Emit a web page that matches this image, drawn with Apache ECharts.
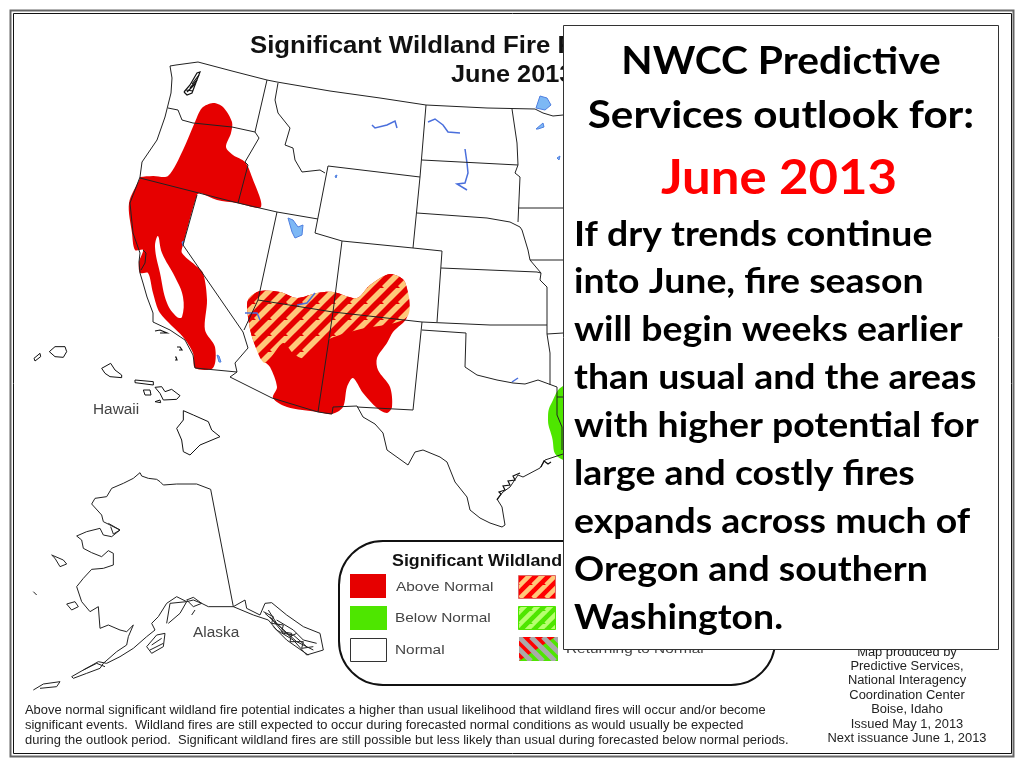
<!DOCTYPE html>
<html>
<head>
<meta charset="utf-8">
<style>html,body{margin:0;padding:0;background:#fff}#chart{width:1024px;height:768px}</style>
<script src="https://cdn.jsdelivr.net/npm/echarts@6/dist/echarts.min.js"></script>
</head>
<body>
<div id="chart"></div>
<script>
// map outlines, in map units
const stateLines = [
  [[198,62],[232,71],[267,80],[277,82],[330,91],[380,98],[426,105],[487,108],[535,109],[543,113],[553,116],[563,115]],
  [[198,62],[176,65],[170,66],[172,78],[171,93],[168,105],[165,117],[157,140],[142,162],[140,177],[130,203],[133,233],[140,253],[139,262],[140,273],[143,283],[147,297],[153,313],[153,322],[170,330],[185,340],[193,355],[195,368]],
  [[195,368],[237,372],[230,377],[272,398],[318,412],[332,414],[333,407],[357,406],[363,417],[375,424],[383,433],[387,450],[408,465],[415,452],[423,450],[440,457],[447,462],[455,482],[467,497],[470,510],[480,518],[490,523],[502,527],[505,525],[502,507],[497,499],[503,492],[510,487],[518,475],[523,477],[540,468],[545,460],[560,455],[563,454]],
  [[168,108],[178,110],[182,120],[193,123],[232,127],[255,132]],
  [[267,80],[255,132],[259,138],[245,162],[248,165],[238,203]],
  [[140,178],[238,203],[277,212],[318,219]],
  [[278,83],[275,100],[278,113],[290,128],[285,145],[293,148],[295,160],[302,172],[320,170],[325,173]],
  [[328,166],[420,177],[413,248],[342,241],[315,233],[328,166]],
  [[426,105],[420,177]],
  [[422,160],[518,165]],
  [[512,109],[517,143],[518,165],[515,173],[520,177],[518,222]],
  [[518,208],[563,208]],
  [[417,213],[487,218],[510,222],[520,227],[522,230],[528,250],[530,260],[541,273]],
  [[530,260],[563,260]],
  [[413,248],[442,251],[437,322]],
  [[441,268],[537,272],[541,273],[540,280],[547,287],[547,334],[550,353],[550,385]],
  [[342,241],[333,312],[318,412]],
  [[258,300],[333,312],[422,322],[490,325],[547,325]],
  [[277,212],[258,300],[244,330]],
  [[197,195],[183,245],[243,332],[248,348],[235,363],[237,372]],
  [[422,322],[413,410],[357,407]],
  [[422,330],[466,333],[465,367],[477,375],[497,380],[513,383],[525,384],[538,380],[557,387],[557,415],[562,427],[562,450]],
  [[547,334],[563,333]],
  [[557,397],[563,397]],
  [[143,250],[146,253],[145,263],[141,270]]
];
const smallIslands = [
  [[155,331],[160,330],[167,333],[160,333]],
  [[177,347],[180,347],[182,350],[179,350]],
  [[175,357],[176,357],[177,360],[175,360]],
  [[184,92],[190,85],[197,73],[200,72],[195,85],[192,93],[187,95],[184,92]],
  [[190,88],[197,80]],[[187,92],[195,84]],[[192,84],[199,75]],[[186,90],[193,91]],
  [[497,500],[501,494],[499,492],[505,490],[503,486],[510,485],[508,481],[515,480],[513,476],[520,473]],
  [[541,467],[544,461],[548,464],[551,462]]
];
const hawaiiOutlines = [
  [[42,85],[60,70],[62,80],[45,93]],
  [[88,65],[105,50],[135,50],[140,65],[130,82],[105,80]],
  [[245,115],[272,100],[285,120],[305,135],[305,143],[270,140],[255,130]],
  [[345,150],[400,155],[400,165],[345,158]],
  [[370,180],[390,180],[393,195],[375,195]],
  [[405,172],[425,170],[435,185],[455,178],[480,197],[470,208],[430,210],[420,190]],
  [[405,215],[420,210],[422,218]],
  [[490,242],[520,255],[565,275],[575,300],[600,320],[540,345],[510,375],[490,365],[485,330],[470,295],[490,270]]
];
const alaskaOutlines = [
  [[360,38],[365,48],[385,55],[410,58],[420,65],[430,75],[470,72],[530,72],[572,88],[640,440],[600,440],[565,440],[545,430],[520,420],[500,425],[470,410],[440,430],[415,470],[395,490],[405,510],[380,530],[340,565],[300,590],[260,610],[235,605],[190,630],[155,650],[160,655],[200,640],[240,625],[250,610],[290,575],[320,555],[325,530],[340,495],[320,515],[300,510],[265,495],[240,505],[235,440],[210,455],[185,425],[170,380],[190,355],[215,328],[250,325],[280,315],[280,280],[265,272],[245,290],[215,278],[190,265],[185,240],[170,228],[200,215],[240,205],[250,225],[275,230],[300,210],[270,195],[250,185],[245,165],[215,132],[225,115],[260,110],[275,85],[310,70],[340,55],[360,38]],
  [[640,440],[675,420],[680,445],[720,465],[735,430],[755,428],[800,465],[850,500],[900,520],[910,570],[860,585],[820,540],[770,510],[745,480],[700,465],[640,440]],
  [[735,460],[780,500],[830,545],[880,570]],[[750,470],[790,520],[820,525],[860,560]],[[770,480],[820,510],[850,540],[890,550]],[[760,500],[800,540],[850,575],[865,585]],[[745,450],[770,490],[810,530],[830,520]],
  [[730,455],[760,470],[755,490],[790,495],[785,515],[815,520],[810,545],[850,545],[845,565],[880,560]],
  [[380,560],[410,525],[435,520],[430,560],[395,580],[380,560]],[[395,555],[425,535]],[[390,570],[430,550]],
  [[95,285],[130,300],[140,312],[120,320],[105,295],[95,285]],
  [[140,432],[165,425],[175,440],[155,450],[140,432]],
  [[40,395],[50,405]],
  [[40,690],[70,672],[120,665],[110,680],[60,685]],
  [[440,490],[450,430],[500,425],[480,460],[445,490]],
  [[500,420],[520,412],[545,430],[520,440],[500,420]],[[515,465],[525,450]],
  [[190,630],[230,610],[255,620]],
  [[265,190],[300,210],[280,222],[272,200]]
];
const waterLakes = [
  [[288,218],[293,220],[298,227],[303,225],[302,235],[295,238],[292,232]],
  [[536,108],[540,96],[547,98],[551,105],[545,110]],
  [[536,129],[543,123],[544,127],[538,129]],
  [[557,158],[560,156],[559,160]],
  [[335,176],[337,175],[336,178]],
  [[217,355],[219,356],[221,362],[219,362]],
  [[182,242],[184,241],[183,246]]
];
const waterRivers = [
  [[372,125],[375,128],[387,125],[395,121],[397,128]],
  [[428,122],[435,119],[443,125],[448,132],[460,133]],
  [[465,149],[467,163],[468,173],[465,183],[457,184],[467,190]],
  [[297,305],[307,303],[315,293]],
  [[245,313],[257,313],[260,320]],
  [[512,382],[518,378]]
];
// fire potential areas
const aboveNormalNorth = [[202,108],[213,103],[223,107],[232,122],[231,133],[226,147],[233,155],[245,162],[252,177],[261,207],[237,203],[217,200],[200,193],[197,195],[183,245],[182,253],[195,265],[203,273],[207,300],[205,330],[215,347],[213,368],[195,368],[193,353],[183,337],[160,313],[153,293],[148,273],[140,273],[139,262],[143,250],[135,250],[132,233],[129,203],[140,178],[140,177],[153,176],[168,176],[183,150],[195,122]];
const centralValley = [[158,236],[162,253],[175,277],[183,297],[182,317],[177,317],[167,303],[160,273],[155,247]];
const aboveNormalSouth = [[248,300],[260,291],[280,292],[297,298],[317,293],[333,292],[357,298],[370,285],[390,274],[405,282],[407,317],[393,332],[387,343],[377,358],[378,370],[390,387],[392,407],[387,413],[377,408],[363,393],[353,378],[347,387],[343,407],[332,414],[318,412],[287,407],[273,398],[277,387],[270,367],[263,360],[253,340],[248,317]];
const hatchedSouth = [[248,300],[260,291],[280,292],[297,298],[317,293],[333,292],[357,298],[370,285],[390,274],[405,282],[407,317],[357,330],[327,340],[303,358],[293,353],[283,343],[265,363],[253,340],[248,317]];
const belowNormalEast = [[563,386],[553,400],[548,417],[552,437],[558,457],[575,456],[575,386]];
// text
const mapTitle = ["Significant Wildland Fire Potential Outlook", "June 2013"];
const legendTitle = "Significant Wildland Fire Potential";
const legendLabels = ["Above Normal", "Below Normal", "Normal", "Returning to Normal"];
const placeLabels = ["Hawaii", "Alaska"];
const panelHead = ["NWCC Predictive", "Services outlook for:"];
const panelMonth = "June 2013";
const panelBody = ["If dry trends continue", "into June, fire season", "will begin weeks earlier", "than usual and the areas", "with higher potential for", "large and costly fires", "expands across much of", "Oregon and southern", "Washington."];
const footNote = ["Above normal significant wildland fire potential indicates a higher than usual likelihood that wildland fires will occur and/or become", "significant events.  Wildland fires are still expected to occur during forecasted normal conditions as would usually be expected", "during the outlook period.  Significant wildland fires are still possible but less likely than usual during forecasted below normal periods."];
const credits = ["Map produced by", "Predictive Services,", "National Interagency", "Coordination Center", "Boise, Idaho", "Issued May 1, 2013", "Next issuance June 1, 2013"];

const RED = "#e60000", GREEN = "#4ee600", ORANGE = "#ffc87a";

function stripes(size, base, stripe) {
  const c = document.createElement("canvas");
  c.width = c.height = size;
  const g = c.getContext("2d");
  g.fillStyle = base;
  g.fillRect(0, 0, size, size);
  g.strokeStyle = stripe;
  g.lineWidth = size * 0.35;
  for (let k = -size; k <= size * 2; k += size) {
    g.beginPath();
    g.moveTo(k - size, size);
    g.lineTo(k + size, -size);
    g.stroke();
  }
  return c;
}

function returningSwatch() {
  const c = document.createElement("canvas");
  c.width = 39; c.height = 24;
  const g = c.getContext("2d");
  g.fillStyle = GREEN;
  g.fillRect(0, 0, 39, 24);
  g.fillStyle = "#ff0000";
  g.beginPath(); g.moveTo(0, 0); g.lineTo(36, 0); g.lineTo(0, 24); g.fill();
  g.strokeStyle = "#aaaaaa";
  g.lineWidth = 5;
  for (let k = -24; k < 60; k += 12) {
    g.beginPath(); g.moveTo(k, 0); g.lineTo(k + 24, 24); g.stroke();
  }
  return c;
}

const redHatch = { image: stripes(16, RED, ORANGE), repeat: "repeat" };

function shapes(name, list, closed, style, z, smooth) {
  return {
    type: "custom",
    name: name,
    coordinateSystem: "cartesian2d",
    silent: true,
    z: z,
    data: list.map((_, i) => [i]),
    encode: { x: 0, y: 0 },
    renderItem: (params, api) => ({
      type: closed ? "polygon" : "polyline",
      shape: { points: list[api.value(0)].map((p) => api.coord(p)), smooth: smooth || 0 },
      style: closed ? style : Object.assign({ fill: null }, style),
    }),
  };
}

const insetAlaska = alaskaOutlines.map((l) => l.map((p) => [20 + p[0] / 3, 460 + p[1] / 3]));
const insetHawaii = hawaiiOutlines.map((l) => l.map((p) => [20 + p[0] / 3, 330 + p[1] / 3]));

function text(str, x, y, size, opts) {
  return {
    type: "text", x: x, y: y, z: (opts && opts.z) || 5, silent: true,
    scaleX: (opts && opts.scaleX) || 1,
    style: Object.assign({
      text: str, fontFamily: "Liberation Sans", fontSize: size, fill: "#222",
      align: "left", verticalAlign: "middle",
    }, opts && opts.style),
  };
}
const panelFont = { fontFamily: "Lato", fontWeight: "bold", fill: "#000" };
const bodyTop = [235, 282, 330, 378, 426, 474, 522, 570, 618];
const noteTop = [711, 726, 741];
const creditTop = [653, 667, 681, 696, 710, 725, 739];

const graphics = [
  { type: "rect", z: 1, silent: true, shape: { x: 10.5, y: 10.5, width: 1003, height: 746 }, style: { fill: "#fff", stroke: "#666", lineWidth: 2 } },
  { type: "rect", z: 1, silent: true, shape: { x: 13.5, y: 13.5, width: 998, height: 740 }, style: { fill: "#fff", stroke: "#111", lineWidth: 1 } },
  text(mapTitle[0], 250, 47, 23, { z: 3, scaleX: 1.12, style: { fontWeight: "bold", fill: "#111" } }),
  text(mapTitle[1], 451, 76, 23, { z: 3, scaleX: 1.1, style: { fontWeight: "bold", fill: "#111" } }),
  text(placeLabels[0], 93, 410, 14, { scaleX: 1.1, style: { fill: "#444" } }),
  text(placeLabels[1], 193, 633, 14, { scaleX: 1.1, style: { fill: "#444" } }),
  { type: "rect", z: 3, silent: true, shape: { x: 339, y: 541, width: 436, height: 144, r: 44 }, style: { fill: "#fff", stroke: "#111", lineWidth: 2 } },
  text(legendTitle, 392, 561, 16.5, { scaleX: 1.08, style: { fontWeight: "bold", fill: "#111" } }),
  { type: "rect", z: 4, silent: true, shape: { x: 350, y: 574, width: 36, height: 24 }, style: { fill: RED } },
  { type: "rect", z: 4, silent: true, shape: { x: 350, y: 606, width: 37, height: 24 }, style: { fill: GREEN } },
  { type: "rect", z: 4, silent: true, shape: { x: 350.5, y: 638.5, width: 36, height: 23 }, style: { fill: "#fff", stroke: "#333", lineWidth: 1 } },
  { type: "rect", z: 4, silent: true, shape: { x: 518.5, y: 575.5, width: 37, height: 23 }, style: { fill: { image: stripes(13, "#ff0000", ORANGE), repeat: "repeat" }, stroke: "#d66", lineWidth: 1 } },
  { type: "rect", z: 4, silent: true, shape: { x: 518.5, y: 606.5, width: 37, height: 23 }, style: { fill: { image: stripes(13, GREEN, "#b8ff70"), repeat: "repeat" }, stroke: GREEN, lineWidth: 1 } },
  { type: "image", z: 4, silent: true, style: { image: returningSwatch(), x: 519, y: 637, width: 39, height: 24 } },
  text(legendLabels[0], 396, 587, 13.5, { scaleX: 1.14, style: { fill: "#444" } }),
  text(legendLabels[1], 395, 618, 13.5, { scaleX: 1.14, style: { fill: "#444" } }),
  text(legendLabels[2], 395, 650, 13.5, { scaleX: 1.14, style: { fill: "#444" } }),
  text(legendLabels[3], 566, 649, 13.5, { scaleX: 1.14, style: { fill: "#444" } }),
  { type: "rect", z: 10, silent: true, shape: { x: 563.5, y: 25.5, width: 435, height: 624 }, style: { fill: "#fff", stroke: "#333", lineWidth: 1 } },
  text(panelHead[0], 781, 61.5, 38, { z: 11, scaleX: 1.07, style: Object.assign({ align: "center" }, panelFont) }),
  text(panelHead[1], 781, 115.5, 38, { z: 11, scaleX: 1.11, style: Object.assign({ align: "center" }, panelFont) }),
  text(panelMonth, 779, 179, 48, { z: 11, scaleX: 1.06, style: Object.assign({ align: "center" }, panelFont, { fill: "#ff0000" }) }),
];
panelBody.forEach((line, i) => graphics.push(text(line, 574, bodyTop[i], 34, { z: 11, scaleX: 1.1, style: panelFont })));
footNote.forEach((line, i) => graphics.push(text(line, 25, noteTop[i], 12, { scaleX: 1.077, style: { fill: "#222" } })));
credits.forEach((line, i) => graphics.push(text(line, 907, creditTop[i], 12, { scaleX: 1.074, style: { align: "center", fill: "#222" } })));

const chart = echarts.init(document.getElementById("chart"), null, { renderer: "canvas" });
chart.setOption({
  animation: false,
  backgroundColor: "#fff",
  grid: { left: 0, right: 0, top: 0, bottom: 0 },
  xAxis: { type: "value", min: 0, max: 1024, show: false },
  yAxis: { type: "value", min: 0, max: 768, inverse: true, show: false },
  graphic: graphics,
  series: [
    shapes("Below Normal", [belowNormalEast], true, { fill: GREEN }, 2, 0.5),
    shapes("Above Normal", [aboveNormalNorth, aboveNormalSouth], true, { fill: RED }, 2, 0.3),
    shapes("Normal", [centralValley], true, { fill: "#fff" }, 2, 0.4),
    shapes("Above Normal hatched", [hatchedSouth], true, { fill: redHatch }, 2, 0.3),
    shapes("Lakes", waterLakes, true, { fill: "#7db8f5", stroke: "#4f7fe0", lineWidth: 1 }, 3),
    shapes("Rivers", waterRivers, false, { stroke: "#4a6fdc", lineWidth: 1.5 }, 3),
    shapes("States", stateLines, false, { stroke: "#222", lineWidth: 1 }, 4),
    shapes("Islands", smallIslands, false, { stroke: "#111", lineWidth: 1.2 }, 4),
    shapes("Hawaii", insetHawaii, true, { fill: "#fff", stroke: "#111", lineWidth: 1 }, 4),
    shapes("Alaska", insetAlaska, false, { stroke: "#222", lineWidth: 1 }, 4),
  ],
});
</script>
</body>
</html>
